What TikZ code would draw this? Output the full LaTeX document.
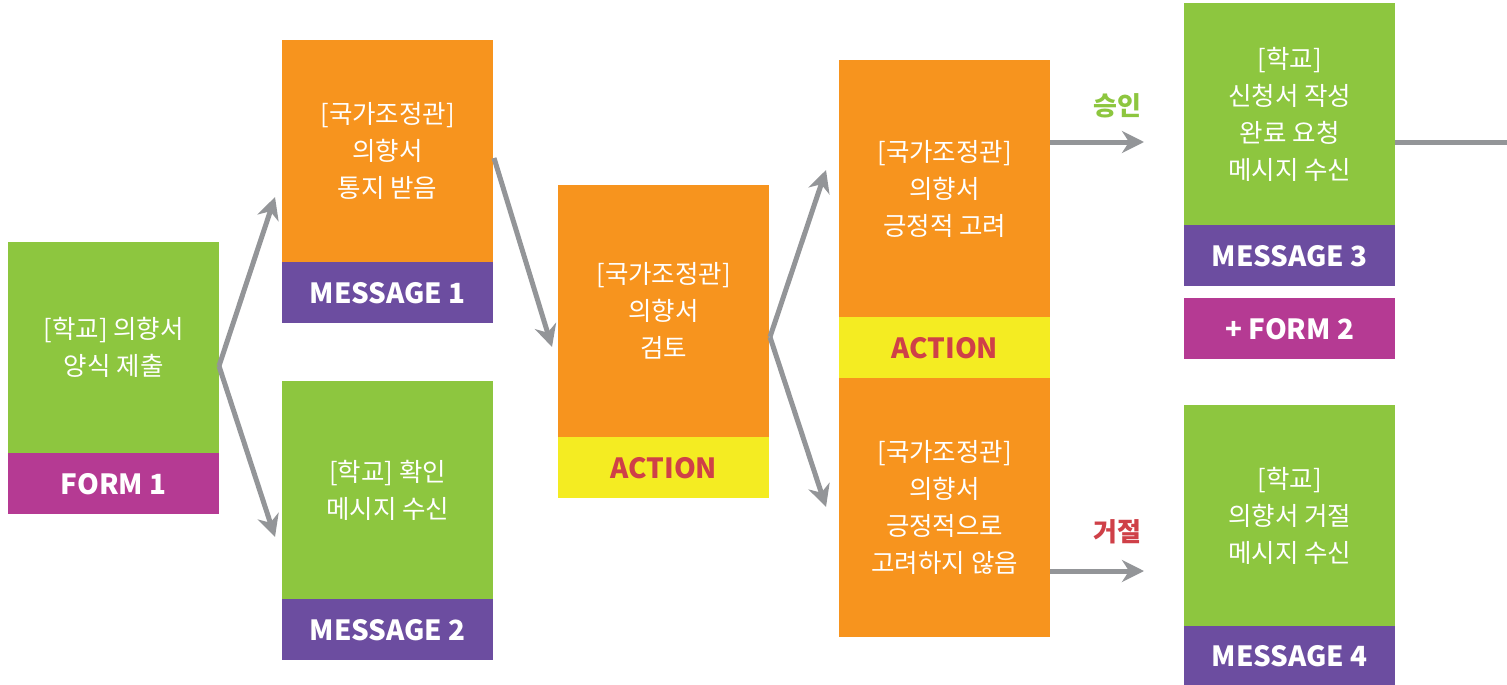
\documentclass[tikz,border=0pt]{standalone}
\usepackage{fontspec}
\setmainfont{Noto Sans CJK KR}
\usetikzlibrary{arrows.meta}
\definecolor{cgreen}{HTML}{8DC63F}
\definecolor{corange}{HTML}{F7941E}
\definecolor{cpurple}{HTML}{6C4DA0}
\definecolor{cmag}{HTML}{B53A93}
\definecolor{cyellow}{HTML}{F4EC22}
\definecolor{cgray}{HTML}{939598}
\definecolor{cred}{HTML}{CF4048}
\begin{document}
\begin{tikzpicture}[x=1pt,y=-1pt,
  box/.style={anchor=north west, inner sep=0pt, minimum width=211pt, text=white,
    font=\fontsize{25.5}{37}\selectfont, align=center},
  tag/.style={anchor=north west, inner sep=0pt, minimum width=211pt, text=white,
    font=\bfseries\fontsize{27.8}{30}\selectfont},
  arr/.style={draw=cgray, line width=5pt, -{Stealth[length=22pt,width=22pt,inset=7pt]}},
  lbl/.style={font=\bfseries\fontsize{26}{30}\selectfont}]
\useasboundingbox (0,0) rectangle (1507,685);
% boxes
\node[box, fill=cgreen, minimum height=211pt] (b1) at (8,242) {[학교] 의향서\\양식 제출};
\node[tag, fill=cmag, minimum height=61pt] (t1) at (8,453) {FORM 1};
\node[box, fill=corange, minimum height=222pt] (b2) at (282,40) {[국가조정관]\\의향서\\통지 받음};
\node[tag, fill=cpurple, minimum height=61pt] (t2) at (282,262) {MESSAGE 1};
\node[box, fill=cgreen, minimum height=218pt] (b3) at (282,381) {[학교] 확인\\메시지 수신};
\node[tag, fill=cpurple, minimum height=61pt] (t3) at (282,599) {MESSAGE 2};
\node[box, fill=corange, minimum height=252pt] (b4) at (558,185) {[국가조정관]\\의향서\\검토};
\node[tag, fill=cyellow, text=cred, minimum height=61pt] (t4) at (558,437) {ACTION};
\node[box, fill=corange, minimum height=257pt] (b5) at (839,60) {[국가조정관]\\의향서\\긍정적 고려};
\node[tag, fill=cyellow, text=cred, minimum height=61pt] (t5) at (839,317) {ACTION};
\node[box, fill=corange, minimum height=259pt] (b6) at (839,378) {[국가조정관]\\의향서\\긍정적으로\\고려하지 않음};
\node[box, fill=cgreen, minimum height=222pt] (b7) at (1184,3) {[학교]\\신청서 작성\\완료 요청\\메시지 수신};
\node[tag, fill=cpurple, minimum height=61pt] (t7) at (1184,225) {MESSAGE 3};
\node[tag, fill=cmag, minimum height=61pt] (f7) at (1184,298) {+ FORM 2};
\node[box, fill=cgreen, minimum height=221pt] (b8) at (1184,405) {[학교]\\의향서 거절\\메시지 수신};
\node[tag, fill=cpurple, minimum height=59pt] (t8) at (1184,626) {MESSAGE 4};
% labels
\node[lbl, text=cgreen] (l1) at (1117,106) {승인};
\node[lbl, text=cred] (l2) at (1117,532) {거절};
% coordinates
\coordinate (s1) at (219,366);
\coordinate (e1a) at (275,197);
\coordinate (e1b) at (275,537);
\coordinate (s2) at (494,158);
\coordinate (e2) at (552,347);
\coordinate (s4) at (770,337);
\coordinate (e4a) at (826,170);
\coordinate (e4b) at (826,507);
\coordinate (s5) at (1050,142);
\coordinate (e5) at (1144,142);
\coordinate (s6) at (1050,571);
\coordinate (e6) at (1144,571);
\coordinate (s7) at (1395,142);
\coordinate (e7) at (1507,142);
% arrows
\draw[arr] (s1) -- (e1a);
\draw[arr] (s1) -- (e1b);
\draw[arr] (s2) -- (e2);
\draw[arr] (s4) -- (e4a);
\draw[arr] (s4) -- (e4b);
\draw[arr] (s5) -- (e5);
\draw[arr] (s6) -- (e6);
\draw[draw=cgray, line width=5pt] (s7) -- (e7);
\end{tikzpicture}
\end{document}
